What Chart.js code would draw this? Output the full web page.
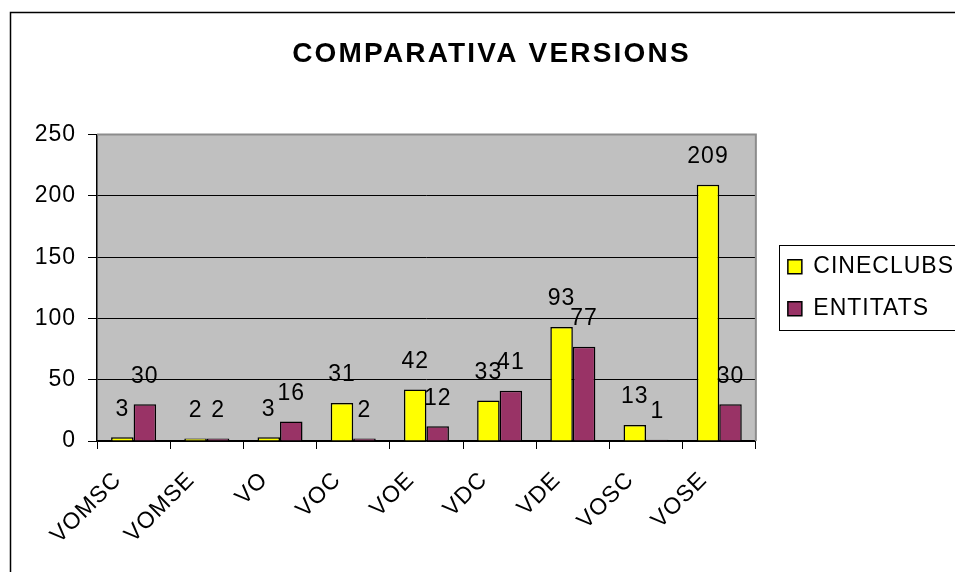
<!DOCTYPE html>
<html>
<head>
<meta charset="utf-8">
<script src="https://cdn.jsdelivr.net/npm/chart.js@4/dist/chart.umd.min.js"></script>
<style>
  html, body { margin: 0; padding: 0; background: #fff; overflow: hidden; }
  #wrap { width: 975px; height: 572px; }
</style>
</head>
<body>
<div id="wrap"><canvas id="versions" width="975" height="572"></canvas></div>
<script>
const categories = ['VOMSC', 'VOMSE', 'VO', 'VOC', 'VOE', 'VDC', 'VDE', 'VOSC', 'VOSE'];
const cineclubs = [3, 2, 3, 31, 42, 33, 93, 13, 209];
const entitats = [30, 2, 16, 2, 12, 41, 77, 1, 30];
const yTicks = [0, 50, 100, 150, 200, 250];

const FONT = 'Liberation Sans, Arial, sans-serif';

// fons gris de l'area del grafic, vores i requadre de la llegenda
const frame = {
    id: 'frame',
    afterInit(chart) {
        // el titol va una mica mes espaiat que la resta de textos
        const tb = chart.titleBlock;
        const draw = tb.draw;
        tb.draw = function () {
            chart.ctx.letterSpacing = '2.2px';
            draw.apply(this, arguments);
            chart.ctx.letterSpacing = '1px';
        };
    },
    beforeLayout(chart) {
        chart.ctx.letterSpacing = '1px';
    },
    afterLayout(chart) {
        // separa una mica la llegenda de l'area del grafic
        const lg = chart.legend;
        lg.left += 13;
        lg.right += 13;
        const tb = chart.titleBlock;
        tb.left += 16;
        tb.right += 16;
    },
    beforeDraw(chart) {
        const ctx = chart.ctx;
        const a = chart.chartArea;
        ctx.letterSpacing = '1px';
        ctx.save();
        ctx.fillStyle = '#fff';
        ctx.fillRect(0, 0, chart.width, chart.height);
        ctx.strokeStyle = '#000';
        ctx.lineWidth = 1.5;
        ctx.strokeRect(10.5, 12.5, chart.width + 40, chart.height + 40);
        ctx.fillStyle = '#c0c0c0';
        ctx.fillRect(a.left, a.top, a.right - a.left, a.bottom - a.top);
        ctx.restore();
    },
    afterDatasetsDraw(chart) {
        const ctx = chart.ctx;
        const a = chart.chartArea;
        ctx.save();
        ctx.strokeStyle = '#8c8c8c';
        ctx.lineWidth = 2;
        ctx.beginPath();
        ctx.moveTo(a.left, a.top);
        ctx.lineTo(a.right, a.top);
        ctx.lineTo(a.right, a.bottom);
        ctx.stroke();
        // etiquetes de valor
        ctx.fillStyle = '#000';
        ctx.font = '23px ' + FONT;
        ctx.textAlign = 'center';
        ctx.textBaseline = 'middle';
        chart.data.datasets.forEach((ds, i) => {
            chart.getDatasetMeta(i).data.forEach((bar, j) => {
                ctx.fillText(String(ds.data[j]), bar.x, bar.y - 28);
            });
        });
        ctx.restore();
    },
    afterDraw(chart) {
        const hb = chart.legend.legendHitBoxes;
        if (!hb || !hb.length) return;
        const ctx = chart.ctx;
        const last = hb[hb.length - 1];
        const x0 = hb[0].left - 9;
        const y0 = hb[0].top - 10;
        const y1 = last.top + last.height + 10;
        ctx.save();
        ctx.strokeStyle = '#000';
        ctx.lineWidth = 1;
        ctx.strokeRect(Math.round(x0) + 0.5, Math.round(y0) + 0.5, chart.width, Math.round(y1 - y0));
        ctx.restore();
    }
};

new Chart(document.getElementById('versions'), {
    type: 'bar',
    data: {
        labels: categories,
        datasets: [{
            label: 'CINECLUBS',
            data: cineclubs,
            backgroundColor: '#ffff00',
            borderColor: '#000',
            borderWidth: 1.5,
            barPercentage: 1,
            categoryPercentage: 0.615
        }, {
            label: 'ENTITATS',
            data: entitats,
            backgroundColor: '#993366',
            borderColor: '#000',
            borderWidth: 1.5,
            barPercentage: 1,
            categoryPercentage: 0.615
        }]
    },
    options: {
        responsive: false,
        animation: false,
        devicePixelRatio: 1,
        layout: { padding: { top: 0, left: 0, right: 24, bottom: 0 } },
        plugins: {
            title: {
                display: true,
                text: 'COMPARATIVA VERSIONS',
                color: '#000',
                font: { family: FONT, size: 28, weight: 'bold' },
                padding: { top: 37, bottom: 64 }
            },
            legend: {
                position: 'right',
                fullSize: false,
                labels: {
                    color: '#000',
                    font: { family: FONT, size: 23 },
                    boxWidth: 14,
                    boxHeight: 14,
                    padding: 19
                }
            },
            tooltip: { enabled: false }
        },
        scales: {
            x: {
                afterFit(scale) { scale.height = 131; },
                grid: { drawOnChartArea: false, color: '#000', tickLength: 8, offset: true },
                border: { color: '#000', width: 1.5 },
                ticks: {
                    color: '#000',
                    font: { family: FONT, size: 23 },
                    minRotation: 45,
                    maxRotation: 45,
                    padding: 2,
                    // espais al final per apartar l'etiqueta girada de la marca
                    callback: (v, i) => categories[i] + '   '
                }
            },
            y: {
                min: 0,
                max: 250,
                afterFit(scale) { scale.width = 97; },
                afterBuildTicks(scale) { scale.ticks = yTicks.map(v => ({ value: v })); },
                grid: {
                    color: ctx => ctx.tick && ctx.tick.value === 250 ? 'rgba(0,0,0,0)' : '#000',
                    tickColor: '#000',
                    tickLength: 9
                },
                border: { color: '#000', width: 1.5 },
                ticks: {
                    color: '#000',
                    font: { family: FONT, size: 23 },
                    padding: 12
                }
            }
        }
    },
    plugins: [frame]
});
</script>
</body>
</html>
